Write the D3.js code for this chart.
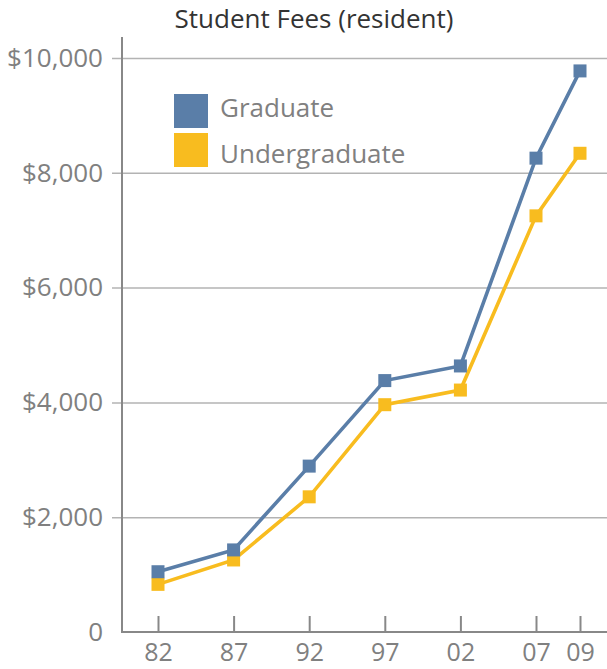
<!DOCTYPE html>
<html><head><meta charset="utf-8">
<script src="https://cdnjs.cloudflare.com/ajax/libs/d3/7.8.5/d3.min.js"></script>
<style>
body{margin:0;background:#fff;}
text{font-family:"Open Sans",sans-serif;}
</style></head>
<body><svg id="c" width="607" height="669"></svg>
<script>
const years = [1982, 1987, 1992, 1997, 2002, 2007, 2009];
const graduate = [1050, 1430, 2890, 4380, 4635, 8255, 9775];
const undergraduate = [830, 1255, 2355, 3960, 4215, 7250, 8340];
const yTicks = [0, 2000, 4000, 6000, 8000, 10000];
const seriesNames = ["Graduate", "Undergraduate"];
const colors = ["#5a7ea8", "#f8bc1f"];

const svg = d3.select("#c");
// piecewise scale: the last two-year gap is drawn wider than the 5-year rhythm
const x = d3.scaleLinear().domain([1982, 2007, 2009]).range([158, 536, 580]);
const y = d3.scaleLinear().domain([0, 10000]).range([632, 58]);

// gridlines + y labels
const ya = svg.append("g").attr("transform","translate(112,0)")
  .call(d3.axisLeft(y).tickValues(yTicks).tickSize(-495).tickPadding(9)
    .tickFormat(d => d === 0 ? "0" : d3.format("$,")(d)));
ya.select(".domain").remove();
ya.selectAll(".tick line").attr("stroke","#b3b3b3").attr("stroke-width",1.5)
  .filter(d => d === 0).remove();
ya.selectAll(".tick text").attr("fill","#808080").style("font-size","26px").style("font-family","Open Sans");

// x axis
const xa = svg.append("g").attr("transform","translate(0,632)")
  .call(d3.axisBottom(x).tickValues(years).tickSizeInner(-16).tickSizeOuter(0).tickPadding(11)
    .tickFormat(d => String(d).slice(2)));
xa.select(".domain").remove();
xa.selectAll(".tick line").attr("stroke","#888").attr("stroke-width",2);
xa.selectAll(".tick text").attr("fill","#808080").style("font-size","25px").style("font-family","Open Sans");

// axis lines
svg.append("line").attr("x1",122).attr("x2",122).attr("y1",37).attr("y2",633)
  .attr("stroke","#888").attr("stroke-width",2);
svg.append("line").attr("x1",121).attr("x2",607).attr("y1",632).attr("y2",632)
  .attr("stroke","#888").attr("stroke-width",2);

const data = [graduate, undergraduate];
const line = d3.line().x((d,i) => x(years[i])).y(d => y(d));
[1,0].forEach(s => {
  svg.append("path").datum(data[s]).attr("d", line).attr("fill","none")
    .attr("stroke", colors[s]).attr("stroke-width",3.6);
  svg.selectAll(null).data(data[s]).enter().append("rect")
    .attr("x",(d,i)=>x(years[i])-6.5).attr("y",d=>y(d)-6.5)
    .attr("width",13).attr("height",13).attr("fill",colors[s]);
});

// legend
const legY = [94, 133], legBase = [117, 163];
seriesNames.forEach((n,i) => {
  svg.append("rect").attr("x",174).attr("y",legY[i]).attr("width",34).attr("height",34).attr("fill",colors[i]);
  svg.append("text").attr("x",220).attr("y",legBase[i]).text(n)
    .attr("fill","#808080").style("font-size","26px");
});

// title
svg.append("text").attr("x",314).attr("y",28).attr("text-anchor","middle")
  .text("Student Fees (resident)").attr("fill","#333").style("font-size","26px");
</script></body></html>
